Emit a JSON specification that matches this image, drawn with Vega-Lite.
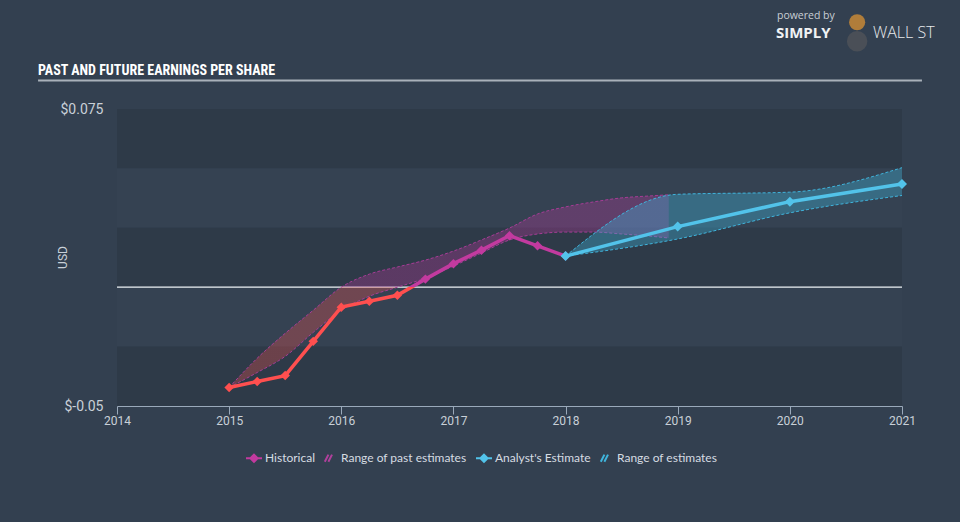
{
  "$schema": "https://vega.github.io/schema/vega-lite/v6.json",
  "autosize": {"type": "none"},
  "width": 785,
  "height": 297,
  "padding": {"left": 117, "top": 109, "right": 58, "bottom": 116},
  "background": "#334050",
  "config": {
    "view": {"stroke": null},
    "font": "Roboto",
    "axis": {"grid": false},
    "axisX": {
      "labelColor": "#c9d0d8",
      "labelFontSize": 12,
      "labelPadding": 1,
      "tickSize": 8,
      "tickColor": "#9aa9ba",
      "domainColor": "#9aa9ba",
      "labelFlush": false
    },
    "axisY": {
      "domain": false,
      "ticks": false,
      "labelPadding": 14,
      "labelFontSize": 14,
      "labelColor": "#c9d0d8",
      "titleColor": "#c9d0d8",
      "titleFontWeight": "normal",
      "titleFontSize": 12
    }
  },
  "datasets": {
    "bands": [
      {"lo": 0.05, "hi": 0.075, "shade": "dark"},
      {"lo": 0.025, "hi": 0.05, "shade": "light"},
      {"lo": 0, "hi": 0.025, "shade": "dark"},
      {"lo": -0.025, "hi": 0, "shade": "light"},
      {"lo": -0.05, "hi": -0.025, "shade": "dark"}
    ],
    "hist": [
      {"year": 2015, "eps": -0.0422},
      {"year": 2015.25, "eps": -0.0397},
      {"year": 2015.5, "eps": -0.0372},
      {"year": 2015.75, "eps": -0.0228},
      {"year": 2016, "eps": -0.0084},
      {"year": 2016.25, "eps": -0.0059},
      {"year": 2016.5, "eps": -0.0034},
      {"year": 2016.75, "eps": 0.0034},
      {"year": 2017, "eps": 0.0099},
      {"year": 2017.25, "eps": 0.0156},
      {"year": 2017.5, "eps": 0.0217},
      {"year": 2017.75, "eps": 0.0174},
      {"year": 2018, "eps": 0.0131}
    ],
    "pastRange": [
      {"year": 2015, "lo": -0.0422, "hi": -0.0422},
      {"year": 2015.25, "lo": -0.0359, "hi": -0.0299},
      {"year": 2015.5, "lo": -0.0291, "hi": -0.0194},
      {"year": 2015.75, "lo": -0.019, "hi": -0.0097},
      {"year": 2016, "lo": -0.0097, "hi": 0.0},
      {"year": 2016.25, "lo": -0.0038, "hi": 0.0055},
      {"year": 2016.5, "lo": 0.0, "hi": 0.0085},
      {"year": 2016.75, "lo": 0.0038, "hi": 0.0114},
      {"year": 2017, "lo": 0.0089, "hi": 0.0152},
      {"year": 2017.25, "lo": 0.0144, "hi": 0.0199},
      {"year": 2017.5, "lo": 0.0199, "hi": 0.0249},
      {"year": 2017.75, "lo": 0.0224, "hi": 0.0308},
      {"year": 2018, "lo": 0.0232, "hi": 0.0338},
      {"year": 2018.25, "lo": 0.0232, "hi": 0.0359},
      {"year": 2018.5, "lo": 0.0224, "hi": 0.0376},
      {"year": 2018.75, "lo": 0.0215, "hi": 0.0384},
      {"year": 2018.92, "lo": 0.0207, "hi": 0.0389}
    ],
    "fc": [
      {"year": 2018, "eps": 0.0131},
      {"year": 2019, "eps": 0.0255},
      {"year": 2020, "eps": 0.036},
      {"year": 2021, "eps": 0.0434}
    ],
    "fcRange": [
      {"year": 2018, "lo": 0.0131, "hi": 0.0131},
      {"year": 2019, "lo": 0.0203, "hi": 0.0391},
      {"year": 2020, "lo": 0.0313, "hi": 0.04},
      {"year": 2021, "lo": 0.0386, "hi": 0.0503}
    ],
    "legend": [
      {"series": "Historical"},
      {"series": "Range of past estimates"},
      {"series": "Analyst's Estimate"},
      {"series": "Range of estimates"}
    ]
  },
  "layer": [
    {
      "data": {"name": "bands"},
      "mark": {"type": "rect"},
      "encoding": {
        "x": {
          "datum": 2014,
          "type": "quantitative",
          "scale": {"domain": [2014, 2021], "nice": false, "zero": false},
          "axis": {
            "title": null,
            "values": [2014, 2015, 2016, 2017, 2018, 2019, 2020, 2021],
            "format": "d"
          }
        },
        "x2": {"datum": 2021},
        "y": {
          "field": "lo",
          "type": "quantitative",
          "scale": {"domain": [-0.05, 0.075], "nice": false, "zero": false},
          "axis": {
            "title": "USD",
            "values": [-0.05, 0.075],
            "labelExpr": "'$' + datum.value",
            "titleX": -48,
            "titleY": 148,
            "titleAngle": -90
          }
        },
        "y2": {"field": "hi"},
        "fill": {
          "condition": {"test": "datum.shade === 'dark'", "value": "#2e3a48"},
          "value": "#354252"
        }
      }
    },
    {
      "data": {"name": "bands"},
      "transform": [{"filter": "datum.lo === 0"}],
      "mark": {"type": "rule", "color": "#eef2f5", "strokeWidth": 1.2},
      "encoding": {
        "x": {"datum": 2014, "type": "quantitative"},
        "x2": {"datum": 2021},
        "y": {"datum": 0, "type": "quantitative"}
      }
    },
    {
      "data": {"name": "pastRange"},
      "mark": {
        "type": "area",
        "interpolate": "monotone",
        "fill": {
          "gradient": "linear", "x1": 0, "y1": 0, "x2": 0, "y2": 1,
          "stops": [
            {"offset": 0, "color": "#b8399c"},
            {"offset": 0.48, "color": "#b8399c"},
            {"offset": 0.48, "color": "#e8504f"},
            {"offset": 1, "color": "#e8504f"}
          ]
        },
        "fillOpacity": 0.33
      },
      "encoding": {
        "x": {"field": "year", "type": "quantitative"},
        "y": {"field": "lo", "type": "quantitative"},
        "y2": {"field": "hi"}
      }
    },
    {
      "data": {"name": "pastRange"},
      "mark": {"type": "line", "interpolate": "monotone", "color": "#a63c96", "strokeWidth": 1, "strokeDash": [3, 2]},
      "encoding": {
        "x": {"field": "year", "type": "quantitative"},
        "y": {"field": "hi", "type": "quantitative"}
      }
    },
    {
      "data": {"name": "pastRange"},
      "mark": {"type": "line", "interpolate": "monotone", "color": "#a63c96", "strokeWidth": 1, "strokeDash": [3, 2]},
      "encoding": {
        "x": {"field": "year", "type": "quantitative"},
        "y": {"field": "lo", "type": "quantitative"}
      }
    },
    {
      "data": {"name": "fcRange"},
      "mark": {"type": "area", "interpolate": "monotone", "fill": "#3fb4dc", "fillOpacity": 0.36},
      "encoding": {
        "x": {"field": "year", "type": "quantitative"},
        "y": {"field": "lo", "type": "quantitative"},
        "y2": {"field": "hi"}
      }
    },
    {
      "data": {"name": "fcRange"},
      "mark": {"type": "line", "interpolate": "monotone", "color": "#3fb4dc", "strokeWidth": 1, "strokeDash": [3, 2]},
      "encoding": {
        "x": {"field": "year", "type": "quantitative"},
        "y": {"field": "hi", "type": "quantitative"}
      }
    },
    {
      "data": {"name": "fcRange"},
      "mark": {"type": "line", "interpolate": "monotone", "color": "#3fb4dc", "strokeWidth": 1, "strokeDash": [3, 2]},
      "encoding": {
        "x": {"field": "year", "type": "quantitative"},
        "y": {"field": "lo", "type": "quantitative"}
      }
    },
    {
      "data": {"name": "hist"},
      "mark": {
        "type": "line",
        "strokeWidth": 3.5,
        "stroke": {
          "gradient": "linear", "x1": 0, "y1": 0, "x2": 0, "y2": 1,
          "stops": [
            {"offset": 0, "color": "#c23a9f"},
            {"offset": 0.34, "color": "#c23a9f"},
            {"offset": 0.34, "color": "#ff4f4f"},
            {"offset": 1, "color": "#ff4f4f"}
          ]
        }
      },
      "encoding": {
        "x": {"field": "year", "type": "quantitative"},
        "y": {"field": "eps", "type": "quantitative"}
      }
    },
    {
      "data": {"name": "hist"},
      "mark": {"type": "point", "shape": "diamond", "filled": true, "size": 90, "opacity": 1},
      "encoding": {
        "x": {"field": "year", "type": "quantitative"},
        "y": {"field": "eps", "type": "quantitative"},
        "fill": {
          "condition": {"test": "datum.eps < 0", "value": "#ff4f4f"},
          "value": "#c23a9f"
        }
      }
    },
    {
      "data": {"name": "fc"},
      "mark": {"type": "line", "strokeWidth": 3.5, "color": "#52c3ea"},
      "encoding": {
        "x": {"field": "year", "type": "quantitative"},
        "y": {"field": "eps", "type": "quantitative"}
      }
    },
    {
      "data": {"name": "fc"},
      "mark": {"type": "point", "shape": "diamond", "filled": true, "size": 100, "opacity": 1, "color": "#52c3ea"},
      "encoding": {
        "x": {"field": "year", "type": "quantitative"},
        "y": {"field": "eps", "type": "quantitative"}
      }
    },
    {
      "data": {"name": "legend"},
      "mark": {"type": "point", "filled": true, "opacity": 0},
      "encoding": {
        "color": {
          "field": "series",
          "type": "nominal",
          "scale": {
            "domain": ["Historical", "Range of past estimates", "Analyst's Estimate", "Range of estimates"],
            "range": ["#c23a9f", "#b0409c", "#52c3ea", "#3fb4dc"]
          },
          "legend": {
            "orient": "none",
            "legendX": 128,
            "legendY": 340,
            "direction": "horizontal",
            "title": null,
            "labelColor": "#d6dce2",
            "labelFont": "Lato",
            "labelFontSize": 12,
            "symbolSize": 256,
            "symbolOpacity": 1,
            "symbolStrokeWidth": 2,
            "columnPadding": 5,
            "labelOffset": 2,
            "encode": {
              "symbols": {
                "update": {
                  "stroke": {"scale": "color", "field": "value"},
                  "strokeWidth": {"value": 2},
                  "opacity": {"value": 1}
                }
              }
            }
          }
        },
        "shape": {
          "field": "series",
          "type": "nominal",
          "scale": {
            "domain": ["Historical", "Range of past estimates", "Analyst's Estimate", "Range of estimates"],
            "range": [
              "M-1,0L1,0M0,-0.45L0.45,0L0,0.45L-0.45,0Z",
              "M-0.65,0.45L-0.2,-0.45M-0.2,0.45L0.25,-0.45",
              "M-1,0L1,0M0,-0.45L0.45,0L0,0.45L-0.45,0Z",
              "M-0.65,0.45L-0.2,-0.45M-0.2,0.45L0.25,-0.45"
            ]
          },
          "legend": {
            "orient": "none",
            "legendX": 128,
            "legendY": 340,
            "direction": "horizontal",
            "title": null,
            "labelColor": "#d6dce2",
            "labelFont": "Lato",
            "labelFontSize": 12,
            "symbolSize": 256,
            "symbolOpacity": 1,
            "symbolStrokeWidth": 2,
            "columnPadding": 5,
            "labelOffset": 2,
            "encode": {
              "symbols": {
                "update": {
                  "stroke": {"scale": "color", "field": "value"},
                  "strokeWidth": {"value": 2},
                  "opacity": {"value": 1}
                }
              }
            }
          }
        }
      }
    },
    {
      "data": {"name": "legend"},
      "transform": [{"filter": "datum.series === 'Historical'"}],
      "mark": {"type": "text", "text": "PAST AND FUTURE EARNINGS PER SHARE", "align": "left", "baseline": "alphabetic", "font": "Roboto Condensed, Liberation Sans Narrow, DejaVu Sans Condensed, sans-serif", "fontWeight": "bold", "fontSize": 14, "color": "#ffffff"},
      "encoding": {
        "x": {"datum": 2013.296, "type": "quantitative"},
        "y": {"datum": 0.0895, "type": "quantitative"}
      }
    },
    {
      "data": {"name": "legend"},
      "transform": [{"filter": "datum.series === 'Historical'"}],
      "mark": {"type": "rule", "color": "#a9b1ba", "strokeWidth": 2},
      "encoding": {
        "x": {"datum": 2013.296, "type": "quantitative"},
        "x2": {"datum": 2021.178},
        "y": {"datum": 0.087, "type": "quantitative"}
      }
    },
    {
      "data": {"name": "legend"},
      "transform": [{"filter": "datum.series === 'Historical'"}],
      "mark": {"type": "text", "text": "powered by", "align": "left", "baseline": "alphabetic", "font": "Open Sans", "fontSize": 10.5, "color": "#c9cfd5"},
      "encoding": {
        "x": {"datum": 2019.885, "type": "quantitative"},
        "y": {"datum": 0.1128, "type": "quantitative"}
      }
    },
    {
      "data": {"name": "legend"},
      "transform": [{"filter": "datum.series === 'Historical'"}],
      "mark": {"type": "text", "text": "SIMPLY", "align": "left", "baseline": "alphabetic", "font": "Open Sans", "fontWeight": "bold", "fontSize": 15, "color": "#f0f2f4"},
      "encoding": {
        "x": {"datum": 2019.876, "type": "quantitative"},
        "y": {"datum": 0.1047, "type": "quantitative"}
      }
    },
    {
      "data": {"name": "legend"},
      "transform": [{"filter": "datum.series === 'Historical'"}],
      "mark": {"type": "point", "shape": "circle", "filled": true, "size": 420, "color": "#4a4f57", "opacity": 1},
      "encoding": {
        "x": {"datum": 2020.6, "type": "quantitative"},
        "y": {"datum": 0.1035, "type": "quantitative"}
      }
    },
    {
      "data": {"name": "legend"},
      "transform": [{"filter": "datum.series === 'Historical'"}],
      "mark": {"type": "point", "shape": "circle", "filled": true, "size": 260, "color": "#b07d3a", "opacity": 1},
      "encoding": {
        "x": {"datum": 2020.6, "type": "quantitative"},
        "y": {"datum": 0.1115, "type": "quantitative"}
      }
    },
    {
      "data": {"name": "legend"},
      "transform": [{"filter": "datum.series === 'Historical'"}],
      "mark": {"type": "text", "text": "WALL ST", "align": "left", "baseline": "alphabetic", "font": "Open Sans", "fontWeight": 300, "fontSize": 16, "color": "#e6e9ec"},
      "encoding": {
        "x": {"datum": 2020.741, "type": "quantitative"},
        "y": {"datum": 0.1047, "type": "quantitative"}
      }
    }
  ]
}
